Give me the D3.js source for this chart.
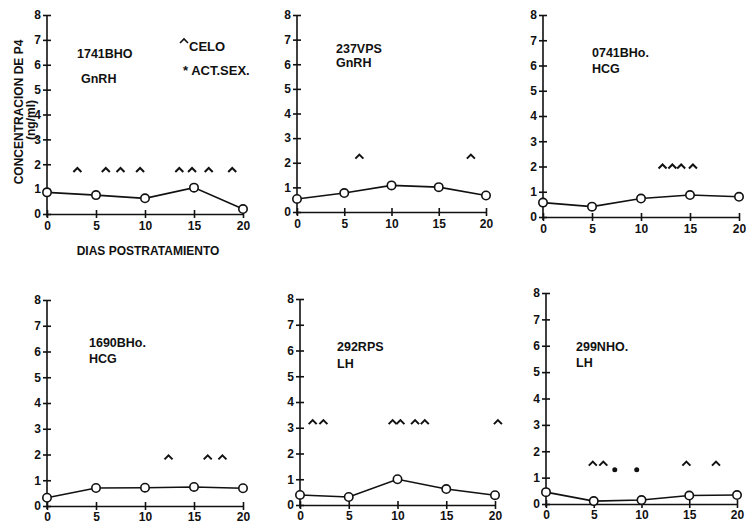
<!DOCTYPE html>
<html>
<head>
<meta charset="utf-8">
<script src="https://cdn.jsdelivr.net/npm/d3@7"></script>
<style>
  body { margin: 0; background: #fff; }
  text { font-family: "Liberation Sans Narrow", "Arial Narrow", "Liberation Sans", Arial, sans-serif; font-weight: bold; fill: #111; }
</style>
</head>
<body>
<div id="chart"></div>
<script>
// sampling days and y ticks
const days = [0, 5, 10, 15, 20];
const yTicks = [0, 1, 2, 3, 4, 5, 6, 7, 8];

// panel labels
const animals = ['1741BHO', '237VPS', '0741BHo.', '1690BHo.', '292RPS', '299NHO.'];
const treatments = ['GnRH', 'GnRH', 'HCG', 'HCG', 'LH', 'LH'];

// P4 concentration (ng/ml) at each day
const p4_1741BHO = [0.87, 0.76, 0.63, 1.06, 0.2];
const p4_237VPS = [0.53, 0.77, 1.08, 1.01, 0.67];
const p4_0741BHo = [0.57, 0.41, 0.73, 0.87, 0.8];
const p4_1690BHo = [0.32, 0.7, 0.71, 0.74, 0.69];
const p4_292RPS = [0.39, 0.31, 1.0, 0.62, 0.38];
const p4_299NHO = [0.45, 0.11, 0.15, 0.32, 0.34];

// days with celo (^) and sexual activity (*)
const celo_1741BHO = [3.1, 6.0, 7.5, 9.5, 13.5, 14.8, 16.5, 18.9];
const celo_237VPS = [6.6, 18.4];
const celo_0741BHo = [12.2, 13.2, 14.1, 15.3];
const celo_1690BHo = [12.4, 16.4, 17.9];
const celo_292RPS = [1.3, 2.4, 9.5, 10.3, 11.8, 12.8, 20.3];
const celo_299NHO = [4.9, 6.0, 14.7, 17.8];
const celoLevel = [1.77, 2.25, 2.0, 1.89, 3.22, 1.53];
const actSex_299NHO = [7.2, 9.5];
const actSexLevel = 1.3;

const p4 = [p4_1741BHO, p4_237VPS, p4_0741BHo, p4_1690BHo, p4_292RPS, p4_299NHO];
const celo = [celo_1741BHO, celo_237VPS, celo_0741BHo, celo_1690BHo, celo_292RPS, celo_299NHO];
const actSex = [[], [], [], [], [], actSex_299NHO];

// panel frames in pixels
const frames = [
  { l: 47, r: 243, t: 15, b: 214, tx: 30, ty: 43, gap: 25 },
  { l: 297, r: 486, t: 15, b: 212, tx: 39, ty: 38, gap: 14 },
  { l: 543, r: 739, t: 15, b: 217, tx: 49, ty: 42, gap: 16 },
  { l: 47, r: 243, t: 300, b: 506, tx: 42, ty: 47, gap: 16 },
  { l: 300, r: 495, t: 299, b: 505, tx: 37, ty: 52, gap: 17 },
  { l: 546, r: 737, t: 293, b: 504, tx: 30, ty: 58, gap: 16 }
];

const svg = d3.select('#chart').append('svg')
  .attr('width', 746)
  .attr('height', 524);

frames.forEach((f, i) => {
  const x = d3.scaleLinear().domain([0, 20]).range([f.l, f.r]);
  const y = d3.scaleLinear().domain([0, 8]).range([f.b, f.t]);
  const g = svg.append('g');

  // y axis with crossing ticks
  const yAxis = d3.axisLeft(y).tickValues(yTicks).tickSizeInner(4).tickSizeOuter(0).tickPadding(2);
  const ya = g.append('g').attr('transform', `translate(${f.l},0)`).call(yAxis);
  ya.selectAll('.tick line').attr('x2', 4).attr('x1', -4);
  ya.select('.domain').attr('d', `M0,${f.t}V${f.b + 3}`);

  // x axis with crossing ticks
  const xAxis = d3.axisBottom(x).tickValues(days).tickSizeInner(4).tickSizeOuter(0).tickPadding(1);
  const xa = g.append('g').attr('transform', `translate(0,${f.b})`).call(xAxis);
  xa.selectAll('.tick line').attr('y1', -4).attr('y2', 4);

  g.selectAll('.domain, .tick line').attr('stroke', '#111').attr('stroke-width', 1.6);
  g.selectAll('.tick text').attr('font-size', 12).attr('font-weight', 'bold');
  xa.selectAll('.tick text').attr('dy', i < 3 ? '0.9em' : '0.8em');

  // line
  const pts = days.map((d, k) => [d, p4[i][k]]);
  g.append('path')
    .datum(pts)
    .attr('fill', 'none')
    .attr('stroke', '#111')
    .attr('stroke-width', 1.6)
    .attr('d', d3.line().x(d => x(d[0])).y(d => y(d[1])));

  g.selectAll('circle.pt').data(pts).join('circle')
    .attr('class', 'pt')
    .attr('cx', d => x(d[0]))
    .attr('cy', d => y(d[1]))
    .attr('r', 4.2)
    .attr('fill', '#fff')
    .attr('stroke', '#111')
    .attr('stroke-width', 1.6);

  // celo carets
  g.selectAll('path.celo').data(celo[i]).join('path')
    .attr('class', 'celo')
    .attr('d', d => `M${x(d) - 4},${y(celoLevel[i]) + 2}L${x(d)},${y(celoLevel[i]) - 2}L${x(d) + 4},${y(celoLevel[i]) + 2}`)
    .attr('fill', 'none')
    .attr('stroke', '#111')
    .attr('stroke-width', 2);

  // sexual activity marks
  g.selectAll('circle.act').data(actSex[i]).join('circle')
    .attr('class', 'act')
    .attr('cx', d => x(d))
    .attr('cy', y(actSexLevel))
    .attr('r', 2.5)
    .attr('fill', '#111');

  // panel title
  g.append('text').attr('x', f.l + f.tx).attr('y', f.t + f.ty).attr('font-size', 12.5).text(animals[i]);
  g.append('text').attr('x', f.l + f.tx + 4 * (i === 0)).attr('y', f.t + f.ty + f.gap).attr('font-size', 12.5).text(treatments[i]);
});

// legend in first panel
const lg = svg.append('g');
lg.append('path').attr('d', 'M180,43L184,39L188,43').attr('fill', 'none').attr('stroke', '#111').attr('stroke-width', 1.6);
lg.append('text').attr('x', 189).attr('y', 51).attr('font-size', 13).text('CELO');
lg.append('text').attr('x', 183).attr('y', 75).attr('font-size', 13).text('* ACT.SEX.');

// axis titles
svg.append('text')
  .attr('transform', 'translate(23,112) rotate(-90)')
  .attr('text-anchor', 'middle')
  .attr('font-size', 12)
  .text('CONCENTRACION DE P4');
svg.append('text')
  .attr('transform', 'translate(35,120) rotate(-90)')
  .attr('text-anchor', 'middle')
  .attr('font-size', 12)
  .text('(ng/ml)');
svg.append('text')
  .attr('x', 148)
  .attr('y', 255)
  .attr('text-anchor', 'middle')
  .attr('font-size', 12)
  .text('DIAS POSTRATAMIENTO');
</script>
</body>
</html>
